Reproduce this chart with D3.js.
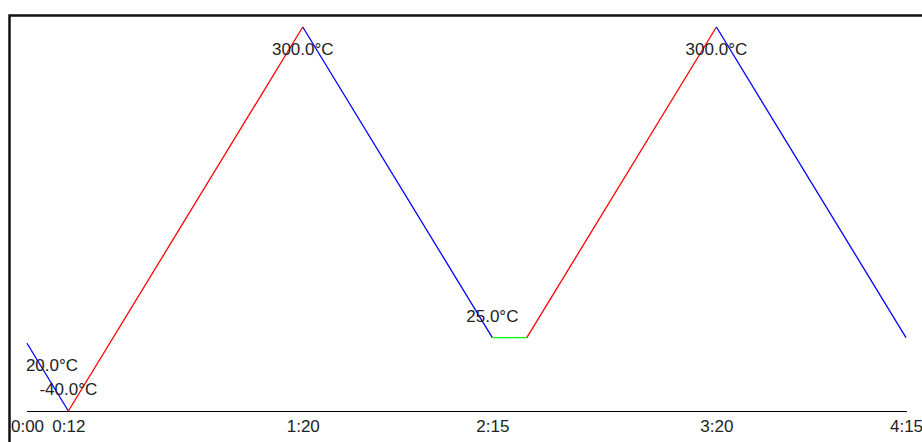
<!DOCTYPE html>
<html>
<head>
<meta charset="utf-8">
<script src="https://cdn.jsdelivr.net/npm/d3@7"></script>
<style>
  body { margin: 0; background: #fff; }
  svg { display: block; }
  text { font-family: "Liberation Sans", Arial, sans-serif; font-size: 17px; fill: #222; }
</style>
</head>
<body>
<div id="chart"></div>
<script>
const width = 922;
const height = 442;

// temperature profile: time in seconds, setpoint in °C
const times = [0, 12, 80, 135, 145, 200, 255];
const temps = [20, -40, 300, 25, 25, 300, 25];
// ticks along the time axis
const tickTimes = [0, 12, 80, 135, 200, 255];
const tickLabels = ["0:00", "0:12", "1:20", "2:15", "3:20", "4:15"];
// points that get a temperature label
const labelTimes = [0, 12, 80, 135, 200];

const svg = d3.select("#chart")
    .append("svg")
    .attr("width", width)
    .attr("height", height);

const x = d3.scaleLinear().domain([0, 255]).range([27, 906]);
const y = d3.scaleLinear().domain([-40, 300]).range([411, 27]);

// frame (only top and left edges visible in the window)
svg.append("path")
    .attr("d", `M9.5,${height} V15.5 H${width}`)
    .attr("fill", "none")
    .attr("stroke", "#111")
    .attr("stroke-width", 2.5);

// time axis
const axis = d3.axisBottom(x)
    .tickValues(tickTimes)
    .tickFormat((d, i) => tickLabels[i])
    .tickSize(0)
    .tickPadding(8);

const gx = svg.append("g")
    .attr("transform", `translate(0,${y(-40) + 0.5})`)
    .call(axis);
gx.select(".domain").attr("stroke", "#000").attr("stroke-width", 1.2)
    .attr("d", `M${x(0)},0H${x(255) + 1}`);
gx.selectAll("text")
    .attr("fill", "#222")
    .attr("font-size", "17px")
    .attr("font-family", "Liberation Sans, Arial, sans-serif");

// segments coloured by direction: heating red, cooling blue, hold green
const segs = d3.range(times.length - 1).map(i => ({
    t0: times[i], t1: times[i + 1], v0: temps[i], v1: temps[i + 1]
}));

svg.selectAll("line.seg")
    .data(segs)
    .enter()
    .append("line")
    .attr("class", "seg")
    .attr("x1", d => x(d.t0))
    .attr("y1", d => y(d.v0))
    .attr("x2", d => x(d.t1))
    .attr("y2", d => y(d.v1))
    .attr("stroke", d => d.v1 > d.v0 ? "#ff0000" : d.v1 < d.v0 ? "#0000ff" : "#00ff00")
    .attr("stroke-width", 1.3);

// temperature labels: below peaks, above everything else
const pts = labelTimes.map(t => {
    const i = times.indexOf(t);
    const prev = i > 0 ? temps[i - 1] : -Infinity;
    const next = i < temps.length - 1 ? temps[i + 1] : -Infinity;
    const peak = temps[i] > prev && temps[i] > next;
    return { t: t, v: temps[i], peak: peak };
});

svg.selectAll("text.lbl")
    .data(pts)
    .enter()
    .append("text")
    .attr("class", "lbl")
    .attr("x", d => Math.max(x(d.t), 52))
    .attr("y", d => y(d.v) + (d.peak ? 28 : -16))
    .attr("text-anchor", "middle")
    .text(d => d.v.toFixed(1) + "°C");
</script>
</body>
</html>
